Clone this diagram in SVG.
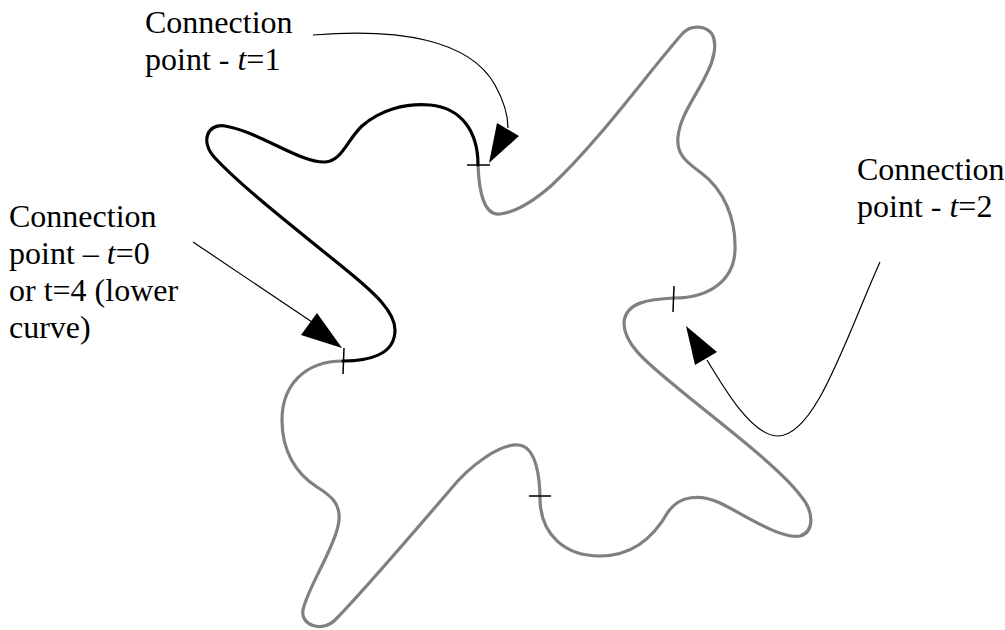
<svg xmlns="http://www.w3.org/2000/svg" width="1005" height="630" viewBox="0 0 1005 630">
<style>
.lbl{font-family:"Liberation Serif","Times New Roman",serif;font-size:32px;fill:#000}
.gray{fill:none;stroke:#808080;stroke-width:3.2;stroke-linecap:round;stroke-linejoin:round}
.blk{fill:none;stroke:#000;stroke-width:3.2;stroke-linecap:round;stroke-linejoin:round}
.tick{stroke:#000;stroke-width:1.5;fill:none}
.conn{fill:none;stroke:#000;stroke-width:1.2}
.head{fill:#000;stroke:none}
</style>
<rect width="1005" height="630" fill="#fff"/>
<g id="curve">
<path class="gray" d="M478,165 C479,192 484,216 500,214 C517,212 535,200 552,185 C600,140 650,70 683,33 C692,24 706,26 712,34 C718,44 713,62 707,73 C697,95 680,115 678,137 C676,155 688,163 700,172 C725,190 736,220 735,250 C734,280 710,298 674,298 C650,299 626,302 624,322 C623,345 650,365 680,390 C720,423 780,468 800,495 C815,512 814,532 800,536 C780,540 740,512 720,503 C700,494 680,495 668,512 C655,535 635,556 600,556 C565,556 541,535 540,500 C540,480 537,446 518,445 C500,444 470,465 450,490 C420,525 360,595 335,620 C322,633 300,625 303,610 C307,590 330,555 337,530 C345,505 330,495 317,487 C295,473 282,450 282,420 C282,385 305,361 343,361"/>
<path class="blk" d="M343,361 C368,361 395,355 395,330 C395,310 370,290 350,273 C300,232 245,190 215,158 C200,142 207,123 225,126 C260,132 300,163 325,162 C342,161 347,140 362,126 C380,110 405,103 430,105 C462,108 478,132 478,165"/>
</g>
<g id="ticks">
<line class="tick" x1="467" y1="165" x2="490" y2="165"/>
<line class="tick" x1="344" y1="348" x2="343" y2="374"/>
<line class="tick" x1="674" y1="286" x2="673" y2="312"/>
<line class="tick" x1="529" y1="496" x2="551" y2="496"/>
</g>
<g id="connectors">
<path class="conn" d="M313,35 C400,28 470,40 495,85 C505,103 508,115 508,128"/>
<polygon class="head" points="489,163 497,123 519,136"/>
<line class="conn" x1="193" y1="242" x2="312" y2="322"/>
<polygon class="head" points="342,348 317,313 301,335"/>
<path class="conn" d="M880,262 C845,340 815,437 777,436 C752,435 725,390 707,360"/>
<polygon class="head" points="686,326 695,365 717,352"/>
</g>
<g id="label-t1">
<text class="lbl" x="145" y="33">Connection</text>
<text class="lbl" x="145" y="70">point - <tspan font-style="italic">t</tspan>=1</text>
</g>
<g id="label-t0">
<text class="lbl" x="9" y="227">Connection</text>
<text class="lbl" x="9" y="264">point – <tspan font-style="italic">t</tspan>=0</text>
<text class="lbl" x="9" y="301">or t=4 (lower</text>
<text class="lbl" x="9" y="338">curve)</text>
</g>
<g id="label-t2">
<text class="lbl" x="857" y="180">Connection</text>
<text class="lbl" x="857" y="217">point - <tspan font-style="italic">t</tspan>=2</text>
</g>
</svg>
